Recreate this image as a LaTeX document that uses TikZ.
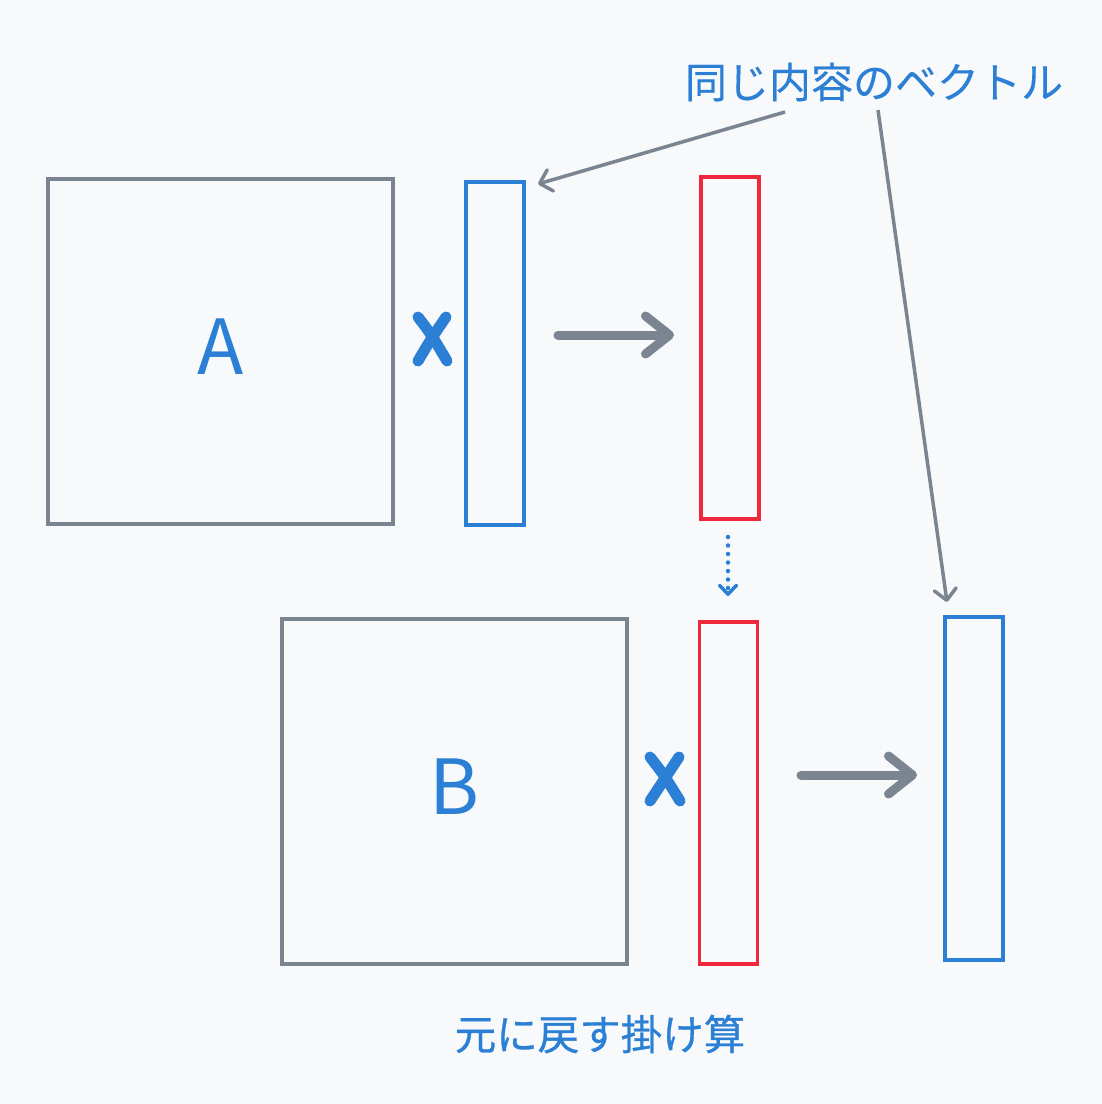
\documentclass[tikz,border=0pt]{standalone}
\usepackage{fontspec}
\setmainfont{Noto Sans CJK JP}
\usetikzlibrary{arrows.meta}
\definecolor{bg}{HTML}{F7F9FB}
\definecolor{gr}{HTML}{7A8591}
\definecolor{bl}{HTML}{2B7FD4}
\definecolor{rd}{HTML}{F0283C}
\tikzset{
  mat/.style={draw=gr, line width=3.5pt, minimum width=345pt, minimum height=345pt, inner sep=0pt, text=bl, font=\fontsize{76}{76}\selectfont, text depth=9pt},
  vecb/.style={draw=bl, line width=3.5pt, minimum width=58pt, minimum height=343pt, inner sep=0pt},
  vecr/.style={draw=rd, line width=3.5pt, minimum width=58pt, minimum height=342pt, inner sep=0pt},
  bigarrow/.style={draw=gr, line width=9pt, line cap=round, -{Straight Barb[round, length=24pt, width=38pt]}},
  pointer/.style={draw=gr, line width=3.5pt, -{Straight Barb[round, length=11pt, width=22pt]}},
  dotarrow/.style={draw=bl, line width=4.5pt, dash pattern=on 0pt off 8.5pt, line cap=round, -{Straight Barb[round, length=9pt, width=17pt, line width=3.5pt]}},
  xmark/.style={draw=bl, line width=11pt, line cap=round},
  lbl/.style={text=bl, inner sep=0pt, font=\fontsize{42}{42}\selectfont\addfontfeatures{FakeBold=0.3}},
}
\begin{document}
\begin{tikzpicture}[x=1pt,y=-1pt]
\fill[bg] (0,0) rectangle (1102,1104);
\useasboundingbox (0,0) rectangle (1102,1104);

\node[mat] (A) at (220.5,351.5) {A};
\node[vecb] (va) at (495,353.5) {};
\node[vecr] (ra) at (730,348) {};
\node[mat] (B) at (454.5,791.5) {B};
\node[vecr] (rb) at (728.5,793) {};
\node[vecb] (vc) at (974,788.5) {};

% X marks
\draw[xmark] (418,317) .. controls (431,334) .. (447,361);
\draw[xmark] (446,317) .. controls (431,339) .. (418,361);
\draw[xmark] (650,757) .. controls (664,775) .. (680,801);
\draw[xmark] (679,757) .. controls (664,779) .. (650,801);

% big arrows
\coordinate (a1s) at (558,335);
\coordinate (a1e) at (674,335);
\coordinate (a2s) at (801,775);
\coordinate (a2e) at (917,775);
\draw[bigarrow] (a1s) -- (a1e);
\draw[bigarrow] (a2s) -- (a2e);

% dotted arrow
\coordinate (ds) at (728,537);
\coordinate (de) at (728,596);
\draw[dotarrow] (ds) -- (de);

% labels
\node[lbl] (top) at (874,82) {同じ内容のベクトル};
\node[lbl, font=\fontsize{41.5}{41.5}\selectfont\addfontfeatures{FakeBold=0.7}] (bot) at (600,1034) {元に戻す掛け算};

\coordinate (p1s) at (785,112);
\coordinate (p1e) at (538,184);
\coordinate (p2s) at (878,110);
\coordinate (p2e) at (947,602);
\draw[pointer] (p1s) -- (p1e);
\draw[pointer] (p2s) -- (p2e);
\end{tikzpicture}
\end{document}
